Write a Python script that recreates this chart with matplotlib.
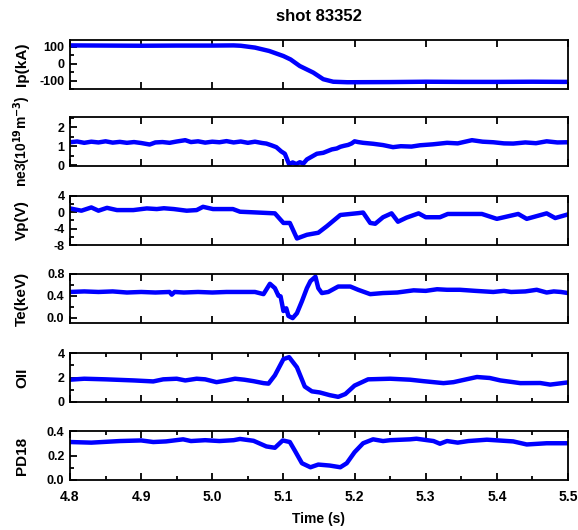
import matplotlib
matplotlib.use("Agg")
import matplotlib.pyplot as plt
from matplotlib.ticker import MultipleLocator

plt.rcParams['font.family'] = ['Liberation Sans', 'DejaVu Sans']
plt.rcParams['font.weight'] = 'bold'
plt.rcParams['mathtext.default'] = 'bf'

title = "shot 83352"
xlabel = "Time (s)"
xticks = [4.8, 4.9, 5.0, 5.1, 5.2, 5.3, 5.4, 5.5]

# Ip (kA)
t_ip = [4.80, 4.85, 4.90, 4.95, 5.00, 5.03, 5.04, 5.06, 5.08, 5.10, 5.11, 5.123, 5.142, 5.156, 5.17, 5.19, 5.25, 5.30, 5.35, 5.40, 5.45, 5.50]
ip = [108, 107, 106, 107, 107, 108, 106, 95, 75, 45, 25, -14, -53, -92, -107, -110, -109, -107, -108, -108, -107, -108]

# ne3 (1e19 m^-3)
t_ne = [4.80, 4.81, 4.82, 4.83, 4.84, 4.85, 4.86, 4.87, 4.88, 4.89, 4.90, 4.912, 4.92, 4.93, 4.94, 4.95, 4.962, 4.97, 4.98, 4.99,
        5.00, 5.01, 5.02, 5.03, 5.04, 5.05, 5.06, 5.07, 5.076, 5.083, 5.09, 5.097, 5.102, 5.108, 5.113, 5.118, 5.123, 5.128, 5.133,
        5.14, 5.147, 5.156, 5.168, 5.175, 5.18, 5.185, 5.191, 5.196, 5.20, 5.205, 5.212, 5.226, 5.24, 5.254, 5.265, 5.28, 5.292,
        5.31, 5.33, 5.345, 5.365, 5.38, 5.395, 5.41, 5.423, 5.44, 5.455, 5.47, 5.485, 5.50]
ne = [1.21, 1.25, 1.18, 1.24, 1.20, 1.26, 1.19, 1.23, 1.18, 1.22, 1.17, 1.09, 1.20, 1.22, 1.18, 1.25, 1.32, 1.22, 1.26, 1.19,
      1.24, 1.21, 1.27, 1.20, 1.25, 1.18, 1.24, 1.17, 1.14, 1.05, 0.95, 0.72, 0.60, 0.04, 0.14, 0.05, 0.15, 0.08, 0.30,
      0.45, 0.60, 0.65, 0.83, 0.88, 0.97, 1.02, 1.07, 1.15, 1.26, 1.22, 1.18, 1.13, 1.06, 0.95, 1.00, 0.98, 1.05,
      1.10, 1.18, 1.15, 1.32, 1.24, 1.21, 1.15, 1.14, 1.20, 1.16, 1.26, 1.20, 1.21]

# Vp (V)
t_vp = [4.80, 4.816, 4.830, 4.840, 4.852, 4.866, 4.889, 4.908, 4.922, 4.932, 4.946, 4.964, 4.978, 4.987, 5.001, 5.029, 5.039,
        5.058, 5.088, 5.100, 5.109, 5.119, 5.133, 5.149, 5.161, 5.180, 5.205, 5.212, 5.222, 5.229, 5.240, 5.252, 5.261, 5.273,
        5.290, 5.300, 5.320, 5.331, 5.379, 5.400, 5.430, 5.442, 5.470, 5.482, 5.500]
vp = [0.96, 0.4, 1.2, 0.4, 1.1, 0.55, 0.55, 0.96, 0.8, 1.0, 0.8, 0.4, 0.55, 1.35, 0.8, 0.8, 0.15,
      0.0, -0.25, -2.6, -2.6, -6.4, -5.5, -5.0, -3.4, -0.65, -0.2, -0.05, -2.6, -2.8, -1.2, -0.25, -2.3, -1.3,
      -0.25, -1.2, -1.2, -0.4, -0.4, -1.6, -0.4, -1.6, -0.25, -1.4, -0.5]

# Te (keV)
t_te = [4.80, 4.82, 4.84, 4.86, 4.88, 4.90, 4.92, 4.94, 4.943, 4.947, 4.96, 4.98, 5.00, 5.02, 5.04, 5.06, 5.072, 5.081, 5.088,
        5.093, 5.096, 5.100, 5.104, 5.107, 5.113, 5.119, 5.126, 5.133, 5.138, 5.145, 5.149, 5.154, 5.163, 5.177, 5.194, 5.205,
        5.222, 5.24, 5.26, 5.283, 5.30, 5.316, 5.33, 5.348, 5.37, 5.395, 5.41, 5.42, 5.44, 5.456, 5.47, 5.48, 5.49, 5.50]
te = [0.47, 0.48, 0.47, 0.48, 0.46, 0.47, 0.46, 0.47, 0.42, 0.47, 0.46, 0.47, 0.46, 0.47, 0.47, 0.47, 0.43, 0.62, 0.54,
      0.40, 0.39, 0.12, 0.17, 0.03, -0.01, 0.08, 0.30, 0.54, 0.67, 0.75, 0.54, 0.45, 0.47, 0.57, 0.57, 0.51,
      0.43, 0.45, 0.46, 0.50, 0.49, 0.52, 0.51, 0.51, 0.49, 0.47, 0.49, 0.47, 0.48, 0.51, 0.46, 0.48, 0.47, 0.45]

# OII
t_oii = [4.80, 4.82, 4.85, 4.89, 4.917, 4.931, 4.95, 4.962, 4.978, 4.99, 5.006, 5.02, 5.032, 5.045, 5.058, 5.072, 5.079,
         5.088, 5.100, 5.108, 5.119, 5.130, 5.140, 5.151, 5.165, 5.177, 5.187, 5.200, 5.219, 5.25, 5.278, 5.297, 5.325,
         5.339, 5.372, 5.39, 5.405, 5.423, 5.433, 5.461, 5.475, 5.50]
oii = [1.82, 1.9, 1.85, 1.76, 1.68, 1.85, 1.9, 1.76, 1.9, 1.85, 1.62, 1.76, 1.9, 1.82, 1.7, 1.54, 1.5,
       2.18, 3.5, 3.66, 2.83, 1.26, 0.87, 0.78, 0.56, 0.42, 0.65, 1.34, 1.85, 1.9, 1.82, 1.7, 1.54,
       1.62, 2.04, 1.96, 1.76, 1.62, 1.54, 1.55, 1.42, 1.6]

# PD18
t_pd = [4.80, 4.83, 4.87, 4.90, 4.917, 4.935, 4.959, 4.97, 4.99, 5.01, 5.03, 5.039, 5.058, 5.076, 5.088, 5.099, 5.109, 5.116,
        5.126, 5.138, 5.149, 5.165, 5.18, 5.189, 5.20, 5.212, 5.226, 5.24, 5.25, 5.278, 5.287, 5.311, 5.32, 5.33, 5.345,
        5.36, 5.386, 5.423, 5.442, 5.47, 5.50]
pd18 = [0.31, 0.305, 0.318, 0.323, 0.31, 0.315, 0.332, 0.318, 0.325, 0.318, 0.325, 0.335, 0.32, 0.274, 0.263, 0.323, 0.31, 0.24,
        0.137, 0.104, 0.126, 0.118, 0.104, 0.137, 0.227, 0.30, 0.332, 0.318, 0.325, 0.332, 0.337, 0.318, 0.296, 0.318, 0.305,
        0.318, 0.329, 0.315, 0.29, 0.30, 0.30]

panels = [
    (t_ip, ip, "Ip(kA)", 11, (-150, 140), [-100, 0, 100], 50, ["-100", "0", "100"], False),
    (t_ne, ne, "ne3(10$^{19}$m$^{-3}$)", 10, (-0.05, 2.55), [0, 1, 2], 0.5, ["0", "1", "2"], False),
    (t_vp, vp, "Vp(V)", 11, (-8, 4), [-8, -4, 0, 4], 2, ["-8", "-4", "0", "4"], False),
    (t_te, te, "Te(keV)", 11, (-0.1, 0.8), [0.0, 0.4, 0.8], 0.2, ["0.0", "0.4", "0.8"], False),
    (t_oii, oii, "OII", 11, (0, 4), [0, 2, 4], 1, ["0", "2", "4"], True),
    (t_pd, pd18, "PD18", 11, (0, 0.4), [0.0, 0.2, 0.4], 0.1, ["0.0", "0.2", "0.4"], True),
]

W, H = 578, 530
fig = plt.figure(figsize=(W / 100, H / 100), dpi=100)
tops = [40, 117, 196, 274, 353, 431]
hgt = 49
left, right = 70, 568

for i, (tt, yy, lab, lfs, ylim, yt, ymin, ytl, xminor) in enumerate(panels):
    ax = fig.add_axes([left / W, 1 - (tops[i] + hgt) / H, (right - left) / W, hgt / H])
    ax.plot(tt, yy, color='#0000ff', lw=3.2, solid_joinstyle='round', solid_capstyle='round')
    ax.set_xlim(4.8, 5.5)
    ax.set_ylim(*ylim)
    ax.set_xticks(xticks)
    if xminor:
        ax.xaxis.set_minor_locator(MultipleLocator(0.05))
    ax.set_yticks(yt)
    ax.set_yticklabels(ytl)
    ax.yaxis.set_minor_locator(MultipleLocator(ymin))
    ax.tick_params(axis='both', which='both', direction='in', top=True, right=False, width=1.3)
    ax.tick_params(which='major', length=5)
    ax.tick_params(which='minor', length=3)
    ax.tick_params(axis='y', labelsize=9, pad=4)
    ax.tick_params(axis='x', labelsize=10, pad=7)
    for s in ax.spines.values():
        s.set_linewidth(1.3)
    fig.text(22 / W, 1 - (tops[i] + hgt / 2) / H, lab, rotation=90, ha='center', va='center',
             fontsize=lfs, fontweight='bold')
    if i < len(panels) - 1:
        ax.tick_params(axis='x', labelbottom=False)
    else:
        ax.set_xticklabels([f"{v:.1f}" for v in xticks])
        ax.set_xlabel(xlabel, fontsize=10, fontweight='bold', labelpad=6)
    if i == 0:
        ax.set_title(title, fontsize=12, fontweight='bold', pad=14)

fig.savefig("out.png", dpi=100)
